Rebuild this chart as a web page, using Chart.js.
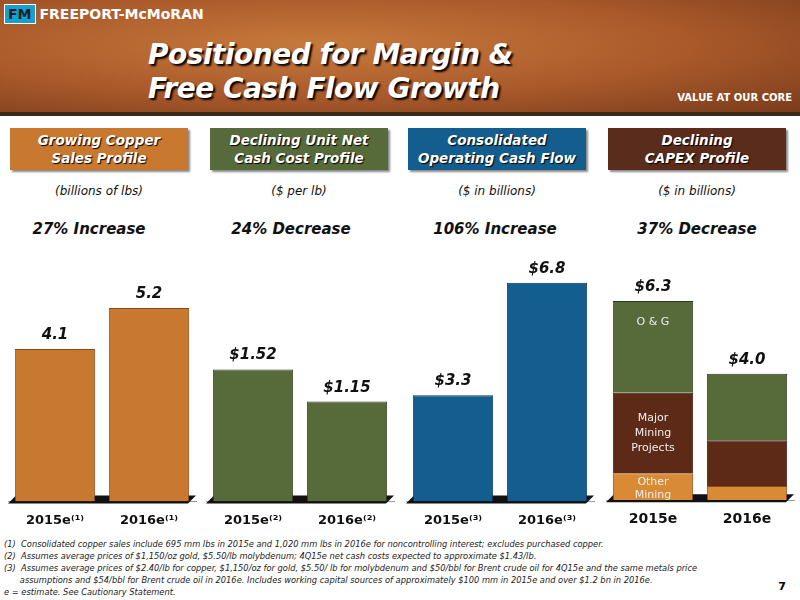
<!DOCTYPE html>
<html><head><meta charset="utf-8">
<script src="https://cdn.jsdelivr.net/npm/chart.js@4/dist/chart.umd.min.js"></script>
<style>
body{margin:0;width:800px;height:600px;position:relative;background:#fff;font-family:Verdana,"DejaVu Sans",sans-serif;overflow:hidden}
#hdr{position:absolute;left:0;top:0;width:800px;height:112px;background:radial-gradient(ellipse at 40% 40%,#c77a3c 0%,#a9592a 55%,#7a3c1c 100%);border-bottom:4px solid #3a2a1a}
#logo{position:absolute;left:4px;top:4px;color:#fff;font:bold 14px "DejaVu Sans",sans-serif}
#logo span{display:inline-block;background:#1aa0c8;color:#123;padding:1px 3px;margin-right:4px;border:1px solid #fff}
#title{position:absolute;left:148px;top:38px;color:#fff;font:italic bold 28px "DejaVu Sans",sans-serif;line-height:34px;text-shadow:2px 2px 2px #000;letter-spacing:-0.5px}
#tag{position:absolute;right:8px;top:92px;color:#fff;font:bold 10px "DejaVu Sans",sans-serif}
.box{position:absolute;top:128px;width:178px;height:42px;color:#fff;font:italic bold 13.5px "DejaVu Sans",sans-serif;text-align:center;line-height:18px;padding-top:3px;box-sizing:border-box;text-shadow:1px 1px 1px #000;box-shadow:2px 2px 2px #888}
.unit{position:absolute;top:184px;width:190px;text-align:center;font:italic 12px "DejaVu Sans",sans-serif;color:#111}
.chg{position:absolute;top:220px;width:190px;text-align:center;font:italic bold 15px "DejaVu Sans",sans-serif;color:#111}
canvas{position:absolute}
#notes{position:absolute;left:4px;top:538px;font:italic 8.3px "DejaVu Sans",sans-serif;color:#222;line-height:12px}
#pg{position:absolute;right:14px;top:580px;font:bold 11px "DejaVu Sans",sans-serif}
</style></head><body>
<div id="hdr"><div id="logo"><span>FM</span>FREEPORT-McMoRAN</div>
<div id="title">Positioned for Margin &amp;<br>Free Cash Flow Growth</div>
<div id="tag">VALUE AT OUR CORE</div></div>
<div class="box" style="left:10px;background:#c9792f">Growing Copper<br>Sales Profile</div>
<div class="box" style="left:210px;background:#566a3a">Declining Unit Net<br>Cash Cost Profile</div>
<div class="box" style="left:408px;background:#145d8f">Consolidated<br>Operating Cash Flow</div>
<div class="box" style="left:608px;background:#5a2c1c">Declining<br>CAPEX Profile</div>
<div class="unit" style="left:4px">(billions of lbs)</div>
<div class="unit" style="left:204px">($ per lb)</div>
<div class="unit" style="left:402px">($ in billions)</div>
<div class="unit" style="left:602px">($ in billions)</div>
<div class="chg" style="left:-6px">27% Increase</div>
<div class="chg" style="left:196px">24% Decrease</div>
<div class="chg" style="left:400px">106% Increase</div>
<div class="chg" style="left:602px">37% Decrease</div>
<canvas id="c1" width="200" height="290" style="left:2px;top:241px"></canvas>
<canvas id="c2" width="200" height="290" style="left:200px;top:241px"></canvas>
<canvas id="c3" width="200" height="290" style="left:400px;top:241px"></canvas>
<canvas id="c4" width="200" height="290" style="left:600px;top:241px"></canvas>
<div id="notes">(1)&nbsp; Consolidated copper sales include 695 mm lbs in 2015e and 1,020 mm lbs in 2016e for noncontrolling interest; excludes purchased copper.<br>
(2)&nbsp; Assumes average prices of $1,150/oz gold, $5.50/lb molybdenum; 4Q15e net cash costs expected to approximate $1.43/lb.<br>
(3)&nbsp; Assumes average prices of $2.40/lb for copper, $1,150/oz for gold, $5.50/ lb for molybdenum and $50/bbl for Brent crude oil for 4Q15e and the same metals price<br>
&nbsp;&nbsp;&nbsp;&nbsp;&nbsp; assumptions and $54/bbl for Brent crude oil in 2016e. Includes working capital sources of approximately $100 mm in 2015e and over $1.2 bn in 2016e.<br>
e = estimate. See Cautionary Statement.</div>
<div id="pg">7</div>
<script>
const copperYears = ['2015e⁽¹⁾', '2016e⁽¹⁾'];
const copperSales = [4.1, 5.2];
const costYears = ['2015e⁽²⁾', '2016e⁽²⁾'];
const unitCost = [1.52, 1.15];
const cashYears = ['2015e⁽³⁾', '2016e⁽³⁾'];
const opCashFlow = [3.3, 6.8];
const capexYears = ['2015e', '2016e'];
const capexOther = [0.85, 0.45];
const capexMajor = [2.55, 1.45];
const capexOG = [2.9, 2.1];
const capexTotal = [6.3, 4.0];

const floor = {
  id: 'floor',
  beforeDatasetsDraw(ch) {
    const a = ch.chartArea, c = ch.ctx;
    c.save(); c.fillStyle = '#111';
    c.beginPath(); c.moveTo(a.left + 8, a.bottom - 6); c.lineTo(a.right, a.bottom - 6);
    c.lineTo(a.right - 8, a.bottom + 2); c.lineTo(a.left, a.bottom + 2); c.fill(); c.restore();
  }
};
const topLabels = {
  id: 'topLabels',
  afterDatasetsDraw(ch, args, opts) {
    const c = ch.ctx, meta = ch.getDatasetMeta(ch.data.datasets.length - 1);
    c.save(); c.font = 'italic bold 15px "DejaVu Sans"'; c.fillStyle = '#111'; c.textAlign = 'center';
    meta.data.forEach((b, i) => c.fillText(opts.labels[i], b.x, b.y - 10));
    c.restore();
  }
};
const segText = {
  id: 'segText',
  afterDatasetsDraw(ch) {
    if (ch.data.datasets.length < 3) return;
    const c = ch.ctx; c.save(); c.fillStyle = '#eee'; c.font = '11px "DejaVu Sans"'; c.textAlign = 'center';
    const m = [ch.getDatasetMeta(0).data[0], ch.getDatasetMeta(1).data[0], ch.getDatasetMeta(2).data[0]];
    const mid = b => (b.y + b.base) / 2;
    c.fillText('Other', m[0].x, mid(m[0]) - 2); c.fillText('Mining', m[0].x, mid(m[0]) + 11);
    c.fillText('Major', m[1].x, mid(m[1]) - 12); c.fillText('Mining', m[1].x, mid(m[1]) + 3); c.fillText('Projects', m[1].x, mid(m[1]) + 18);
    c.fillText('O & G', m[2].x, mid(m[2]) - 22);
    c.restore();
  }
};
function make(id, labels, sets, max, texts, tickFont) {
  new Chart(document.getElementById(id), {
    type: 'bar',
    data: { labels, datasets: sets },
    plugins: [floor, topLabels, segText],
    options: {
      responsive: false, animation: false,
      layout: { padding: { left: 6, right: 6 } },
      plugins: { legend: { display: false }, tooltip: { enabled: false }, topLabels: { labels: texts } },
      scales: {
        x: { stacked: true, grid: { display: false }, border: { color: '#999' },
             ticks: { color: '#111', font: tickFont || { size: 13, weight: 'bold', family: 'DejaVu Sans' } } },
        y: { stacked: true, display: false, min: 0, max }
      }
    }
  });
}
const bar = (data, color, border) => ({ data, backgroundColor: color, borderColor: border, borderWidth: 1, categoryPercentage: 0.95, barPercentage: 0.9 });
make('c1', copperYears, [bar(copperSales, '#c9792f', '#8a4a18')], 7.0, ['4.1', '5.2']);
make('c2', costYears, [bar(unitCost, '#566a3a', '#2e3a1e')], 3.0, ['$1.52', '$1.15']);
make('c3', cashYears, [bar(opCashFlow, '#145d8f', '#0a3556')], 8.1, ['$3.3', '$6.8']);
make('c4', capexYears, [bar(capexOther, '#d98a34', '#8a4a18'), bar(capexMajor, '#5e2a18', '#3a180c'), bar(capexOG, '#566a3a', '#2e3a1e')],
  8.2, ['$6.3', '$4.0'], { size: 14, weight: 'bold', family: 'DejaVu Sans' });
</script>
</body></html>
